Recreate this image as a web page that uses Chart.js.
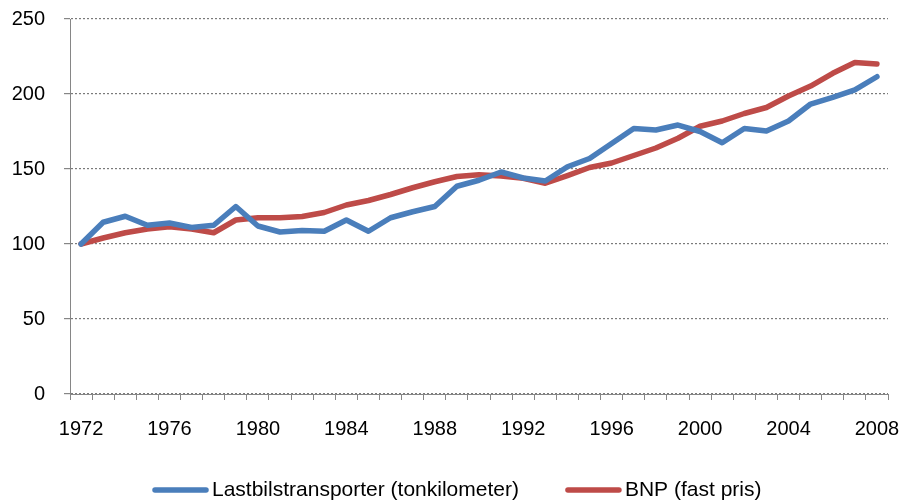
<!DOCTYPE html>
<html>
<head>
<meta charset="utf-8">
<script src="https://cdn.jsdelivr.net/npm/chart.js@4.4.1/dist/chart.umd.min.js"></script>
<style>
  html, body { margin: 0; padding: 0; background: #fff; }
  #wrap { width: 905px; height: 501px; }
</style>
</head>
<body>
<div id="wrap"><canvas id="grafico" width="905" height="501"></canvas></div>
<script>
// Årstall (kategorier)
const aar = [
  '1972', '1973', '1974', '1975', '1976', '1977', '1978', '1979', '1980', '1981',
  '1982', '1983', '1984', '1985', '1986', '1987', '1988', '1989', '1990', '1991',
  '1992', '1993', '1994', '1995', '1996', '1997', '1998', '1999', '2000', '2001',
  '2002', '2003', '2004', '2005', '2006', '2007', '2008'
];

// Indeks, 1972 = 100
const lastbil = [
  100, 114.5, 118.5, 112.5, 114, 111, 112.5, 125, 112, 108,
  109, 108.5, 116, 108.5, 117.5, 121.5, 125, 138.5, 142.5, 148,
  144, 142, 151.5, 157, 167, 177, 176, 179.3, 175, 167.5,
  177, 175.3, 182, 193.3, 197.8, 202.7, 211.5
];

const bnp = [
  100, 104, 107.5, 110, 111.5, 110, 107.5, 116, 117.5, 117.5,
  118.3, 121, 126, 129, 133, 137.5, 141.5, 145, 146.2, 145.3,
  143.8, 140.5, 145.6, 151, 154, 159, 164, 170.5, 178.5, 182,
  187, 191, 198.7, 205.3, 213.8, 221, 220
];

const navn = ['Lastbilstransporter (tonkilometer)', 'BNP (fast pris)'];
const farger = ['#4A7EBB', '#BE4B48'];
const yTicks = [0, 50, 100, 150, 200, 250];

const grå = '#868686';
const font = '"Liberation Sans", Arial, sans-serif';

// Legende under grafen, tegnet selv for å få riktig avstand mellom elementene
const legendePlugin = {
  id: 'legende',
  afterDraw(chart) {
    const ctx = chart.ctx;
    ctx.save();
    ctx.font = '21px ' + font;
    ctx.textBaseline = 'middle';
    ctx.fillStyle = '#000';
    let x = 153;
    const y = 490;
    chart.data.datasets.forEach(ds => {
      ctx.strokeStyle = ds.borderColor;
      ctx.lineWidth = 5.5;
      ctx.lineCap = 'round';
      ctx.beginPath();
      ctx.moveTo(x + 2, y);
      ctx.lineTo(x + 53, y);
      ctx.stroke();
      ctx.fillText(ds.label, x + 59, y);
      x += 59 + ctx.measureText(ds.label).width + 47;
    });
    ctx.restore();
  }
};

const ctx = document.getElementById('grafico').getContext('2d');

new Chart(ctx, {
  type: 'line',
  data: {
    labels: aar,
    datasets: [
      { label: navn[0], data: lastbil, borderColor: farger[0] },
      { label: navn[1], data: bnp, borderColor: farger[1] }
    ].map(ds => Object.assign(ds, {
      borderWidth: 5.5,
      pointRadius: 0,
      tension: 0,
      fill: false,
      borderCapStyle: 'round',
      borderJoinStyle: 'round'
    }))
  },
  options: {
    responsive: false,
    animation: false,
    layout: { padding: { left: 0, right: 17, top: 19, bottom: 0 } },
    plugins: {
      legend: { display: false },
      tooltip: { enabled: false }
    },
    scales: {
      x: {
        offset: true,
        grid: {
          offset: true,
          drawOnChartArea: false,
          drawTicks: true,
          tickLength: 6,
          color: grå
        },
        border: { color: grå, width: 1 },
        ticks: {
          autoSkip: false,
          maxRotation: 0,
          padding: 17,
          color: '#000',
          font: { family: font, size: 20 },
          callback: (v, i) => (i % 4 === 0 ? aar[i] : '')
        },
        afterFit: scale => {
          scale.height = 107;
          scale.paddingLeft = 0;
          scale.paddingRight = 0;
        }
      },
      y: {
        min: 0,
        max: 250,
        afterBuildTicks: scale => { scale.ticks = yTicks.map(v => ({ value: v })); },
        grid: {
          color: '#7a7a7a',
          lineWidth: 1.2,
          tickBorderDash: [],
          tickColor: grå,
          tickLength: 6
        },
        // i v4 styrer border.dash stiplingen av rutenettet
        border: { color: grå, width: 1, dash: [2, 2] },
        ticks: {
          padding: 19,
          color: '#000',
          font: { family: font, size: 20 }
        },
        afterFit: scale => {
          scale.width = 70;
          // tick-padding skal ikke skyve plottet ned
          scale.paddingTop = 0;
          scale.paddingBottom = 0;
        }
      }
    }
  },
  plugins: [legendePlugin]
});
</script>
</body>
</html>
